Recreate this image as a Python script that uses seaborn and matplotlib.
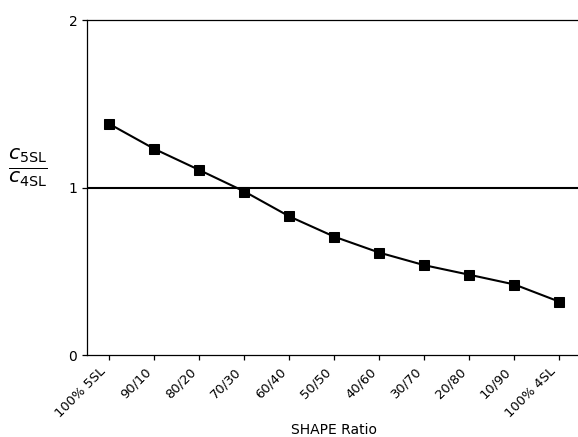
import matplotlib
matplotlib.use("Agg")
import matplotlib.pyplot as plt
import matplotlib.transforms as mtransforms
import seaborn as sns
import pandas as pd

# SHAPE blend ratios (5SL/4SL) and the measured concentration ratio
ratios = ["100% 5SL", "90/10", "80/20", "70/30", "60/40", "50/50",
          "40/60", "30/70", "20/80", "10/90", "100% 4SL"]
conc_ratio = [1.379, 1.230, 1.104, 0.976, 0.827, 0.706,
              0.611, 0.536, 0.479, 0.421, 0.318]
y_ticks = [0, 1, 2]

sns.set_theme(style="white")
plt.rcParams["font.family"] = ["DejaVu Sans"]
plt.rcParams["text.color"] = "black"
plt.rcParams["axes.labelcolor"] = "black"
plt.rcParams["xtick.color"] = "black"
plt.rcParams["ytick.color"] = "black"

df = pd.DataFrame({"pos": range(len(ratios)), "ratio": conc_ratio})

fig = plt.figure(figsize=(5.78, 4.37), dpi=100)
ax = fig.add_axes([0.1505, 0.1876, 0.8564, 0.7666])

ax.axhline(1, color="black", lw=1.5, zorder=1)
sns.lineplot(data=df, x="pos", y="ratio", ax=ax, color="black", lw=1.5,
             marker="s", markersize=7, markeredgecolor="black", zorder=3)

ax.set_xlim(-0.5, len(ratios) - 0.5)
ax.set_ylim(0, 2)
ax.set_yticks(y_ticks)
ax.set_yticklabels([str(t) for t in y_ticks], fontsize=10)
ax.set_xticks(range(len(ratios)))
ax.set_xticklabels(ratios, rotation=45, ha="right", va="baseline",
                   rotation_mode="anchor", fontsize=9.4)
ax.tick_params(axis="both", which="major", direction="out", length=3.5,
               width=0.9, bottom=True, left=True)
ax.tick_params(axis="x", pad=9)

# nudge the slanted category labels slightly left of their ticks
shift = mtransforms.ScaledTranslation(-3 / 100, 0, fig.dpi_scale_trans)
for lbl in ax.get_xticklabels():
    lbl.set_transform(lbl.get_transform() + shift)

for side in ["left", "bottom", "top"]:
    ax.spines[side].set_color("black")
    ax.spines[side].set_linewidth(0.9)
ax.spines["right"].set_visible(False)

ax.set_xlabel("SHAPE Ratio", fontsize=10, va="center")
ax.xaxis.set_label_coords(0.5, -0.224)
ax.set_ylabel(r"$\frac{c_{\mathrm{5SL}}}{c_{\mathrm{4SL}}}$", fontsize=21,
              rotation=0, va="center", ha="center")
ax.yaxis.set_label_coords(-0.12, 0.56)

fig.savefig("out.png", dpi=100)
